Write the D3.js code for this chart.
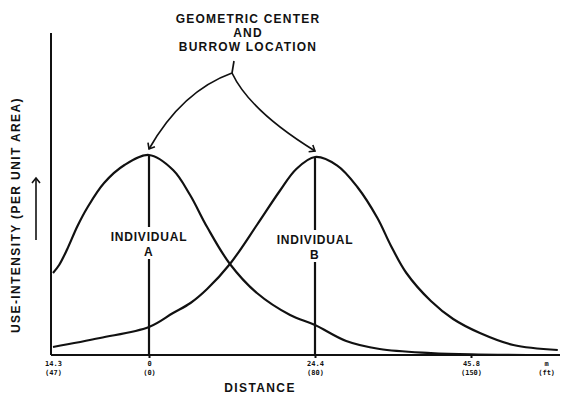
<!DOCTYPE html>
<html>
<head>
<meta charset="utf-8">
<script src="https://d3js.org/d3.v7.min.js"></script>
<style>
  body { margin:0; background:#fff; }
  text { font-family: "Liberation Sans", Arial, sans-serif; fill:#111; }
  .lbl { font-weight:bold; font-size:12px; letter-spacing:1.2px; text-anchor:middle; dominant-baseline:central; }
  .tick text { font-family:"DejaVu Sans Mono", monospace; font-size:7px; font-weight:bold; }
  .curve { fill:none; stroke:#111; stroke-width:2.2px; }
</style>
</head>
<body>
<script>
// distance in ft, use-intensity in arbitrary units (peak = 1)
const aDist = [-47, -44, -40, -35, -30, -22, -12, 0, 11.6, 19.8, 28, 39, 52, 68, 80, 94, 109, 132, 150, 175]
const aUse  = [0.41, 0.45, 0.53, 0.645, 0.74, 0.86, 0.95, 1.0, 0.925, 0.80, 0.64, 0.455, 0.31, 0.20, 0.15, 0.07, 0.03, 0.01, 0.003, 0]
const bDist = [-47, -24, 0, 11.6, 20, 28, 39, 52, 63, 71, 80, 90, 99, 108, 114, 121, 132, 142, 154, 169, 189]
const bUse  = [0.04, 0.085, 0.14, 0.21, 0.26, 0.33, 0.455, 0.65, 0.82, 0.93, 0.99, 0.947, 0.84, 0.685, 0.548, 0.41, 0.27, 0.18, 0.11, 0.05, 0.025]

const tickFt = [-47, 0, 80, 150]
const tickM = ['14.3', '0', '24.4', '45.8']
const tickFtLabels = ['(47)', '(0)', '(80)', '(150)']
const centers = [{name:'A', ft:0, peak:1.0}, {name:'B', ft:80, peak:0.99}]

const W = 562, H = 399
const svg = d3.select('body').append('svg').attr('width', W).attr('height', H)
svg.append('rect').attr('width', W).attr('height', H).attr('fill', '#fff')

const axisX = 51, axisY = 355, axisTop = 33, axisRight = 560
// the drawing's distance axis is not quite linear, so piecewise
const x = d3.scaleLinear().domain([-47, 0, 80, 150, 190]).range([53, 149, 315, 471, 560])
const y = d3.scaleLinear().domain([0, 1.61]).range([axisY, axisTop])

// axes
svg.append('line').attr('x1', axisX).attr('x2', axisX).attr('y1', axisTop).attr('y2', axisY)
  .attr('stroke', '#111').attr('stroke-width', 2)
const gx = svg.append('g').attr('transform', `translate(0,${axisY})`)
  .call(d3.axisBottom(x).tickValues(tickFt).tickSize(3).tickSizeOuter(0).tickFormat(''))
gx.select('.domain').attr('d', `M${axisX},0H${axisRight}`).attr('stroke', '#111').attr('stroke-width', 2.2)
gx.selectAll('.tick line').attr('stroke', '#111').attr('stroke-width', 2)
gx.selectAll('.tick').filter((d, i) => i === 0).select('line').remove()
const tt = gx.selectAll('.tick text').attr('y', 0).attr('dy', null)
tt.append('tspan').attr('x', 0).attr('y', 11).text((d, i) => tickM[i])
tt.append('tspan').attr('x', 0).attr('y', 20).text((d, i) => tickFtLabels[i])
const unit = gx.append('g').attr('class', 'tick').attr('transform', `translate(${x(184)},0)`)
unit.append('text').attr('text-anchor', 'middle').attr('y', 11).text('m')
unit.append('text').attr('text-anchor', 'middle').attr('y', 20).text('(ft)')

// curves
const line = d3.line().x(d => x(d[0])).y(d => y(d[1])).curve(d3.curveCatmullRom.alpha(0.5))
svg.append('path').attr('class', 'curve').attr('d', line(d3.zip(aDist, aUse)))
svg.append('path').attr('class', 'curve').attr('d', line(d3.zip(bDist, bUse)))

// center lines with labels
centers.forEach((c, i) => {
  const cx = x(c.ft)
  svg.append('line').attr('x1', cx).attr('x2', cx).attr('y1', y(c.peak)).attr('y2', axisY)
    .attr('stroke', '#111').attr('stroke-width', 2.2)
  const ly = 237 + i * 3
  svg.append('rect').attr('x', cx - 44).attr('y', ly - 10).attr('width', 88).attr('height', 32).attr('fill', '#fff')
  svg.append('text').attr('class', 'lbl').attr('x', cx).attr('y', ly).style('letter-spacing', '0.8px').text('INDIVIDUAL')
  svg.append('text').attr('class', 'lbl').attr('x', cx).attr('y', ly + 15).text(c.name)
})

// annotation
const note = ['GEOMETRIC CENTER', 'AND', 'BURROW LOCATION']
note.forEach((t, i) => svg.append('text').attr('class', 'lbl').attr('x', 248).attr('y', 19 + i * 14).text(t))

svg.append('defs').append('marker').attr('id', 'arr').attr('viewBox', '-6 -5 8 10')
  .attr('markerWidth', 8).attr('markerHeight', 10).attr('markerUnits', 'userSpaceOnUse').attr('orient', 'auto')
  .append('path').attr('d', 'M-5,-4L0,0L-5,4').attr('fill', 'none').attr('stroke', '#111').attr('stroke-width', 1.6)

const fx = (x(0) + x(80)) / 2, fy = 73
const pA = [x(0), y(1.0) - 6], pB = [x(80), y(0.99) - 6]
svg.append('path').attr('fill', 'none').attr('stroke', '#111').attr('stroke-width', 1.7)
  .attr('d', `M${fx + 2},${fy - 12}L${fx},${fy}`)
svg.append('path').attr('fill', 'none').attr('stroke', '#111').attr('stroke-width', 1.7).attr('marker-end', 'url(#arr)')
  .attr('d', `M${fx},${fy}Q${fx - 50},${fy + 18} ${pA[0]},${pA[1]}`)
svg.append('path').attr('fill', 'none').attr('stroke', '#111').attr('stroke-width', 1.7).attr('marker-end', 'url(#arr)')
  .attr('d', `M${fx},${fy}Q${fx + 18},${fy + 38} ${pB[0]},${pB[1]}`)

// axis titles
svg.append('text').attr('class', 'lbl').attr('transform', `translate(16,${215}) rotate(-90)`)
  .style('letter-spacing', '1.4px').text('USE-INTENSITY (PER UNIT AREA)')
svg.append('path').attr('fill', 'none').attr('stroke', '#111').attr('stroke-width', 1.6).attr('marker-end', 'url(#arr)')
  .attr('d', 'M36,240L36,178')
svg.append('text').attr('class', 'lbl').attr('x', 260).attr('y', 388).style('letter-spacing', '1.4px').text('DISTANCE')
</script>
</body>
</html>
